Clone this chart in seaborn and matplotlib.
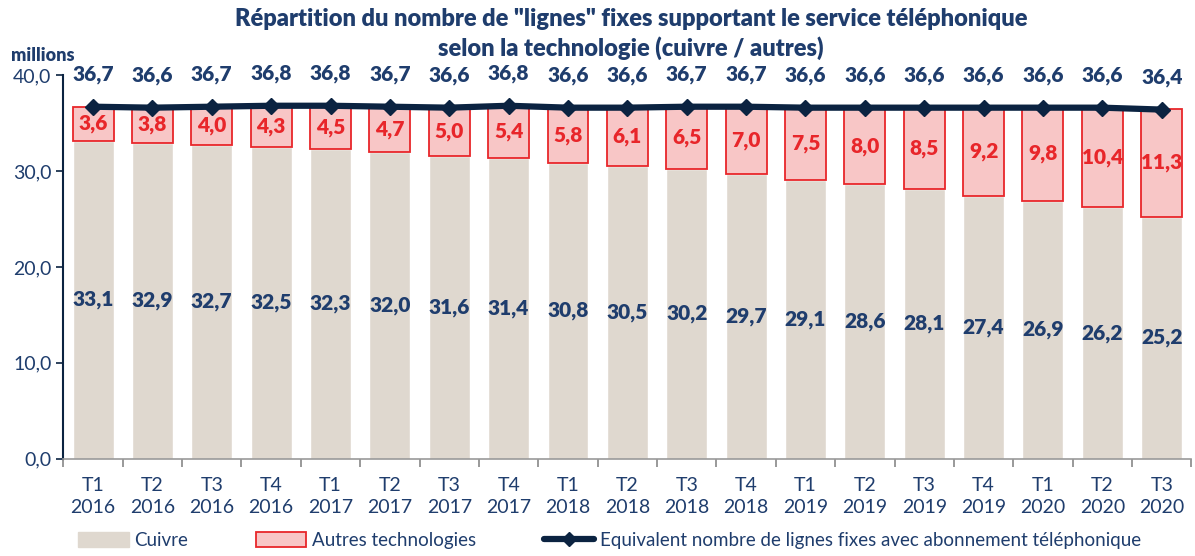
import matplotlib
matplotlib.use("Agg")
import matplotlib.pyplot as plt
import seaborn as sns
import pandas as pd
import numpy as np
from matplotlib.patches import Patch
from matplotlib.lines import Line2D

# valeurs (millions)
trimestres = ['T1\n2016', 'T2\n2016', 'T3\n2016', 'T4\n2016',
              'T1\n2017', 'T2\n2017', 'T3\n2017', 'T4\n2017',
              'T1\n2018', 'T2\n2018', 'T3\n2018', 'T4\n2018',
              'T1\n2019', 'T2\n2019', 'T3\n2019', 'T4\n2019',
              'T1\n2020', 'T2\n2020', 'T3\n2020']
cuivre = [33.1, 32.9, 32.7, 32.5, 32.3, 32.0, 31.6, 31.4, 30.8, 30.5,
          30.2, 29.7, 29.1, 28.6, 28.1, 27.4, 26.9, 26.2, 25.2]
autres = [3.6, 3.8, 4.0, 4.3, 4.5, 4.7, 5.0, 5.4, 5.8, 6.1,
          6.5, 7.0, 7.5, 8.0, 8.5, 9.2, 9.8, 10.4, 11.3]
total = [36.7, 36.6, 36.7, 36.8, 36.8, 36.7, 36.6, 36.8, 36.6, 36.6,
         36.7, 36.7, 36.6, 36.6, 36.6, 36.6, 36.6, 36.6, 36.4]

navy = '#1f3d6d'
dark = '#0b2341'
beige = '#dfd8cf'
pink = '#f8c6c6'
red = '#e8262a'

sns.set_style('white')
plt.rcParams['font.family'] = ['Lato', 'DejaVu Sans']

df = pd.DataFrame({'trim': trimestres, 'cuivre': cuivre, 'autres': autres, 'total': total})
x = np.arange(len(df))

fig = plt.figure(figsize=(11.95, 5.56), dpi=100)
ax = fig.add_axes([0.053, 0.175, 0.944, 0.69])

w = 0.69
sns.barplot(data=df, x='trim', y='cuivre', color=beige, width=w, saturation=1, ax=ax)
ax.bar(x, df['autres'], bottom=df['cuivre'], width=w, color=pink, edgecolor=red, linewidth=1.3)
ax.plot(x, df['total'], color=dark, linewidth=4.5, marker='D', markersize=8, zorder=5)

for i in range(len(df)):
    ax.text(x[i], df['cuivre'][i] / 2, f"{df['cuivre'][i]:.1f}".replace('.', ','),
            ha='center', va='center', color=navy, fontsize=15, fontweight='heavy')
    ax.text(x[i], df['cuivre'][i] + df['autres'][i] / 2, f"{df['autres'][i]:.1f}".replace('.', ','),
            ha='center', va='center', color=red, fontsize=15, fontweight='heavy')
    ax.annotate(f"{df['total'][i]:.1f}".replace('.', ','), (x[i], df['total'][i]),
                xytext=(0, 23), textcoords='offset points',
                ha='center', va='center', color=navy, fontsize=15, fontweight='heavy')

ax.set_ylim(0, 40)
ax.set_xlim(-0.5, len(df) - 0.5)
ax.set_yticks([0, 10, 20, 30, 40])
ax.set_yticklabels(['0,0', '10,0', '20,0', '30,0', '40,0'], color=navy, fontsize=14)
ax.set_xticks(x)
ax.set_xticklabels(trimestres, color=navy, fontsize=14, linespacing=1.35)
ax.tick_params(axis='x', length=0, pad=13)
ax.set_xticks(np.arange(-0.5, len(df), 1), minor=True)
ax.tick_params(axis='x', which='minor', length=6, width=1.2, color='#888888', direction='out', bottom=True)
ax.tick_params(axis='y', length=5, width=1.2, color=dark, direction='out', left=True)
ax.set_xlabel('')
ax.set_ylabel('')

for s in ['top', 'right']:
    ax.spines[s].set_visible(False)
ax.spines['left'].set_color(dark)
ax.spines['left'].set_linewidth(1.5)
ax.spines['bottom'].set_color('#999999')
ax.spines['bottom'].set_linewidth(1.2)

fig.text(0.528, 0.965, 'Répartition du nombre de "lignes" fixes supportant le service téléphonique',
         ha='center', va='center', color=navy, fontsize=17, fontweight='heavy')
fig.text(0.528, 0.913, 'selon la technologie (cuivre / autres)',
         ha='center', va='center', color=navy, fontsize=17, fontweight='heavy')
fig.text(0.009, 0.9, 'millions', ha='left', va='center', color=navy, fontsize=13, fontweight='heavy')

handles = [Patch(facecolor=beige, edgecolor=beige),
           Patch(facecolor=pink, edgecolor=red, linewidth=1.3),
           Line2D([], [], color=dark, linewidth=4.5, marker='D', markersize=7)]
labels = ['Cuivre', 'Autres technologies', 'Equivalent nombre de lignes fixes avec abonnement téléphonique']
leg = fig.legend(handles, labels, loc='center', bbox_to_anchor=(0.51, 0.028), ncol=3, frameon=False,
                 fontsize=13.5, handlelength=2.7, handleheight=0.9, columnspacing=3.6, handletextpad=0.3)
for t in leg.get_texts():
    t.set_color(navy)

fig.savefig('out.png', dpi=100)
